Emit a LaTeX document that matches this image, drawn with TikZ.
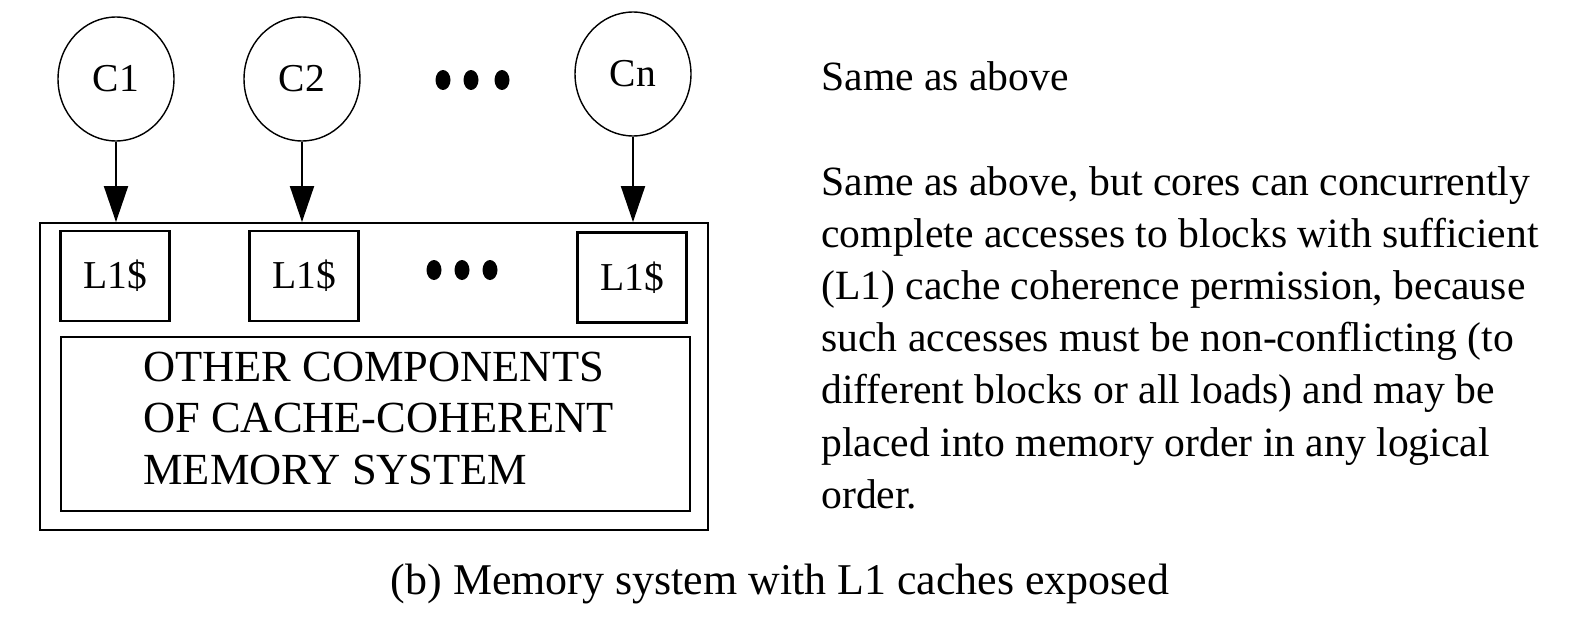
\documentclass[tikz,border=0pt]{standalone}
\usepackage{fontspec}
\setmainfont{Liberation Serif}
\usetikzlibrary{positioning,arrows.meta,shapes.geometric}

\begin{document}
\begin{tikzpicture}[
x=0.02cm, y=-0.02cm,
core/.style={draw, ellipse, line width=0.8pt, minimum width=2.32cm, minimum height=2.48cm, inner sep=0pt, font=\fontsize{22.5}{26}\selectfont},
cache/.style={draw, line width=1.4pt, minimum width=2.18cm, minimum height=1.8cm, inner sep=0pt, font=\fontsize{22.5}{26}\selectfont},
arrow/.style={-{Triangle[length=7.2mm,width=4.8mm]}, line width=1.1pt},
dot/.style={fill, ellipse, minimum width=0.3cm, minimum height=0.4cm, inner sep=0pt},
note/.style={anchor=base west, align=left, inner sep=0pt, font=\fontsize{23.7}{29.6}\selectfont}
]
\useasboundingbox (0,0) rectangle (1578,622);

% cores
\node[core] (c1) at (116,79) {C1};
\node[core] (c2) at (302,79) {C2};
\node[core] (cn) at (633,74) {Cn};
\foreach \x [count=\i] in {443,471,502}
  \node[dot] (topdot\i) at (\x,80) {};

% memory system
\node[draw, line width=1.1pt, minimum width=13.36cm, minimum height=6.14cm, inner sep=0pt] (mem) at (374,376.5) {};
\node[cache] (l1a) at (115,276) {L1\$};
\node[cache] (l1b) at (304,276) {L1\$};
\node[cache] (l1n) at (632,277.5) {L1\$};
\foreach \x [count=\i] in {434,462,490}
  \node[dot] (middot\i) at (\x,270) {};
\node[draw, line width=1.4pt, minimum width=12.58cm, minimum height=3.48cm, inner sep=0pt] (rest) at (375.5,424) {};
\node[anchor=base west, align=left, inner sep=0pt, font=\fontsize{25.3}{29.3}\selectfont] (resttext) at (143,484) {OTHER COMPONENTS\\OF CACHE-COHERENT\\MEMORY SYSTEM};

\draw[arrow] (c1) -- (c1 |- mem.north);
\draw[arrow] (c2) -- (c2 |- mem.north);
\draw[arrow] (cn) -- (cn |- mem.north);

% text
\node[note] (same) at (821,90) {Same as above};
\node[note] (detail) at (821,508) {Same as above, but cores can concurrently\\complete accesses to blocks with sufficient\\(L1) cache coherence permission, because\\such accesses must be non-conflicting (to\\different blocks or all loads) and may be\\placed into memory order in any logical\\order.};
\node[anchor=base, font=\fontsize{25}{30}\selectfont] (cap) at (780,594) {(b) Memory system with L1 caches exposed};
\end{tikzpicture}
\end{document}
